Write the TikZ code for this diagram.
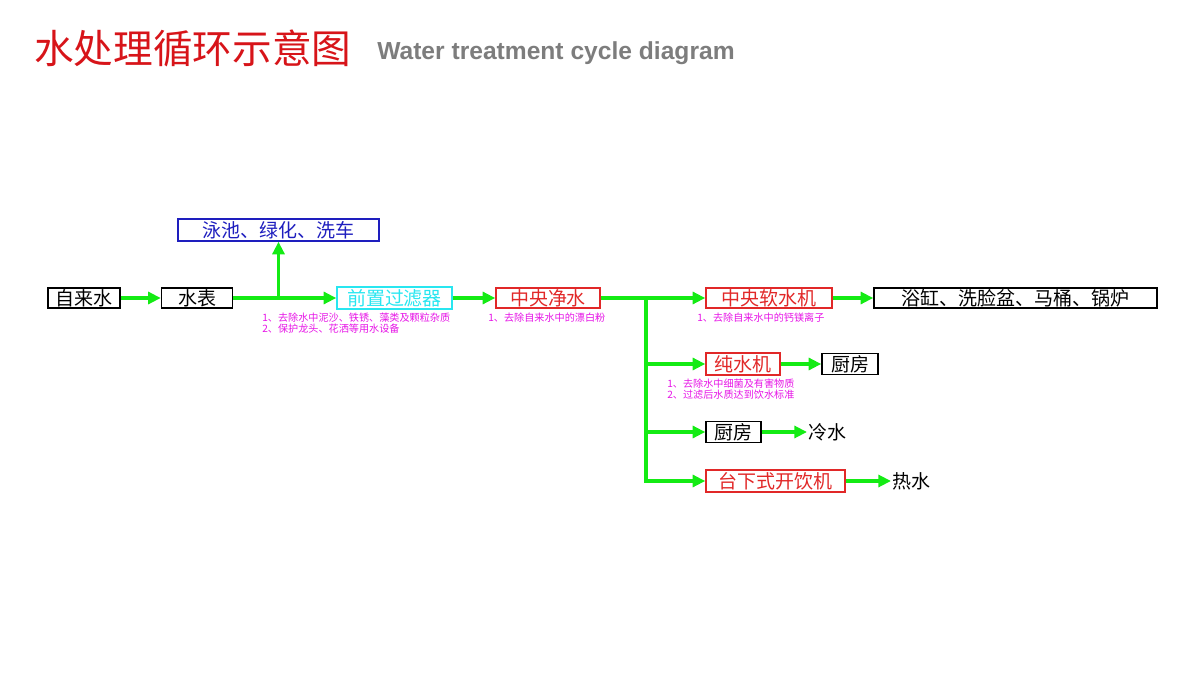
\documentclass[tikz,border=0pt]{standalone}
\usepackage{fontspec}
\setmainfont{Noto Sans CJK SC}
\newfontfamily\enfont{Liberation Sans}
\usetikzlibrary{arrows.meta}
\definecolor{gline}{RGB}{20,235,20}
\definecolor{rbox}{RGB}{225,40,40}
\definecolor{bbox}{RGB}{30,30,190}
\definecolor{cbox}{RGB}{40,230,240}
\definecolor{mag}{RGB}{230,20,230}
\definecolor{ttl}{RGB}{215,20,25}
\definecolor{gry}{RGB}{125,125,125}
\begin{document}
\begin{tikzpicture}[x=0.025cm,y=-0.025cm,
  box/.style={draw=black,line width=1pt,inner sep=0pt,minimum height=20*0.7113pt,font=\fontsize{13.5}{14}\selectfont},
  redbox/.style={box,draw=rbox,text=rbox},
  flow/.style={draw=gline,line width=2.4pt,-{Triangle[length=9pt,width=8.5pt]}},
  plain/.style={draw=gline,line width=2.4pt},
  note/.style={text=mag,font=\fontsize{7.2}{7.4}\selectfont,align=left,inner sep=0pt,anchor=north west},
  lbl/.style={inner sep=1pt,font=\fontsize{13.5}{14}\selectfont}]
\useasboundingbox (0,0) rectangle (1200,675);
% title
\node[anchor=west,inner sep=0pt,text=ttl,font=\fontsize{28.2}{30}\selectfont] (t1) at (34,48) {水处理循环示意图};
\node[anchor=west,inner sep=0pt,text=gry,font=\enfont\bfseries\fontsize{17.5}{19}\selectfont] (t2) at (377,53) {Water treatment cycle diagram};
% boxes
\node[box,minimum width=72*0.7113pt] (zl) at (84,298) {自来水};
\node[box,minimum width=71*0.7113pt] (sb) at (197,298) {水表};
\node[box,draw=bbox,text=bbox,minimum width=201*0.7113pt,minimum height=22*0.7113pt] (yc) at (278.5,230) {泳池、绿化、洗车};
\node[box,draw=cbox,text=cbox,minimum width=115*0.7113pt,minimum height=22*0.7113pt] (qz) at (394.5,298) {前置过滤器};
\node[redbox,minimum width=104*0.7113pt] (jz) at (548,298) {中央净水};
\node[redbox,minimum width=126*0.7113pt] (rs) at (769,298) {中央软水机};
\node[box,minimum width=283*0.7113pt] (yg) at (1015.5,298) {浴缸、洗脸盆、马桶、锅炉};
\node[redbox,minimum width=74*0.7113pt,minimum height=22*0.7113pt] (cs) at (743,364) {纯水机};
\node[box,minimum width=56*0.7113pt,minimum height=21*0.7113pt] (cf1) at (850,364) {厨房};
\node[box,minimum width=55*0.7113pt,minimum height=21*0.7113pt] (cf2) at (733.5,432) {厨房};
\node[redbox,minimum width=139*0.7113pt,minimum height=22*0.7113pt] (tx) at (775.5,481) {台下式开饮机};
\node[lbl,anchor=west] (ls) at (807,432) {冷水};
\node[lbl,anchor=west] (rsw) at (891,481) {热水};
% notes
\node[note] (n1) at (262,313) {1、去除水中泥沙、铁锈、藻类及颗粒杂质\\2、保护龙头、花洒等用水设备};
\node[note] (n2) at (488,313) {1、去除自来水中的漂白粉};
\node[note] (n3) at (697,313) {1、去除自来水中的钙镁离子};
\node[note] (n4) at (667,379) {1、去除水中细菌及有害物质\\2、过滤后水质达到饮水标准};
% connectors
\coordinate (j1) at (278.5,298);
\coordinate (j2) at (646,298);
\draw[flow] (zl.east) -- (sb.west);
\draw[flow] (sb.east) -- (qz.west);
\draw[flow] (j1) -- (yc.south);
\draw[flow] (qz.east) -- (jz.west);
\draw[flow] (jz.east) -- (rs.west);
\draw[flow] (rs.east) -- (yg.west);
\draw[plain] (j2) -- (j2 |- tx.west);
\draw[flow] (j2 |- cs.west) -- (cs.west);
\draw[flow] (cs.east) -- (cf1.west);
\draw[flow] (j2 |- cf2.west) -- (cf2.west);
\draw[flow] (cf2.east) -- (ls.west);
\draw[flow] (j2) |- (tx.west);
\draw[flow] (tx.east) -- (rsw.west);
\end{tikzpicture}
\end{document}
